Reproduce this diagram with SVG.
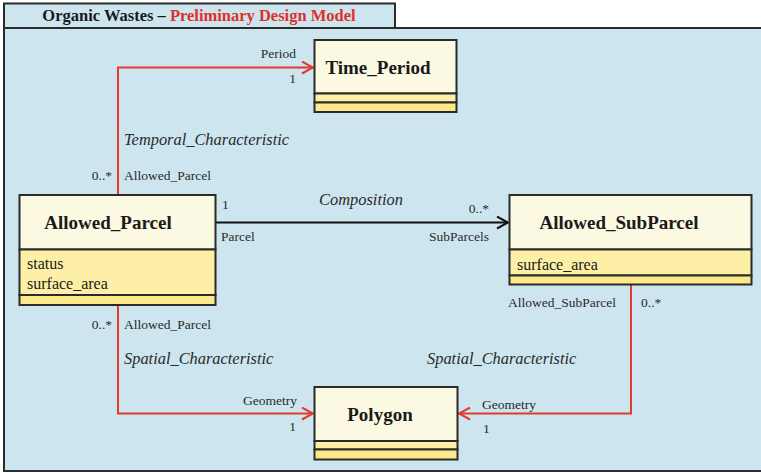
<svg xmlns="http://www.w3.org/2000/svg" width="761" height="473" viewBox="0 0 761 473">
  <style>
    .frame { fill: #cce5ef; stroke: #2b2b2b; stroke-width: 2; }
    .hdr { fill: #fbf9e1; stroke: #2b2b2b; stroke-width: 2; }
    .attr { fill: #fdf0a6; stroke: #2b2b2b; stroke-width: 2; }
    .ops { fill: #fde98a; stroke: #2b2b2b; stroke-width: 2; }
    .name { font-family: "Liberation Serif", serif; font-weight: bold; font-size: 19px; fill: #1a1a1a; text-anchor: middle; }
    .att { font-family: "Liberation Serif", serif; font-size: 16px; fill: #1a1a1a; }
    .lbl { font-family: "Liberation Serif", serif; font-size: 13.5px; fill: #2a2a2a; }
    .role { font-family: "Liberation Serif", serif; font-style: italic; font-size: 16.4px; fill: #2a2a2a; }
    .end { text-anchor: end; }
    .red { fill: none; stroke: #e23b2e; stroke-width: 2; }
    .blk { fill: none; stroke: #111; stroke-width: 2; }
  </style>
  <defs>
    <marker id="openRed" markerWidth="14" markerHeight="14" refX="12" refY="7" orient="auto" markerUnits="userSpaceOnUse">
      <path d="M1,1 L12,7 L1,13" fill="none" stroke="#e23b2e" stroke-width="2"/>
    </marker>
    <marker id="openBlk" markerWidth="14" markerHeight="14" refX="12" refY="7" orient="auto" markerUnits="userSpaceOnUse">
      <path d="M1,1 L12,7 L1,13" fill="none" stroke="#111" stroke-width="2"/>
    </marker>
  </defs>

  <!-- package frame with title tab -->
  <g id="package">
    <rect x="4" y="28" width="762" height="443" class="frame"/>
    <rect x="4" y="3.5" width="391" height="24.5" class="frame"/>
    <text x="199" y="21" font-family="Liberation Serif, serif" font-weight="bold" font-size="16.5" text-anchor="middle" fill="#1a1a1a">Organic Wastes – <tspan fill="#e0302a">Preliminary Design Model</tspan></text>
  </g>

  <!-- connectors -->
  <g id="connectors">
    <polyline points="118,195 118,67.5 313,67.5" class="red" marker-end="url(#openRed)"/>
    <line x1="216" y1="222.5" x2="508" y2="222.5" class="blk" marker-end="url(#openBlk)"/>
    <polyline points="118,305 118,413.5 313,413.5" class="red" marker-end="url(#openRed)"/>
    <polyline points="631,285 631,413.5 459,413.5" class="red" marker-end="url(#openRed)"/>

    <text x="296" y="58" class="lbl end">Period</text>
    <text x="296" y="83" class="lbl end">1</text>
    <text x="124" y="145" class="role">Temporal_Characteristic</text>
    <text x="112" y="180" class="lbl end">0..*</text>
    <text x="124" y="180" class="lbl">Allowed_Parcel</text>

    <text x="222" y="209" class="lbl">1</text>
    <text x="221" y="241" class="lbl">Parcel</text>
    <text x="361" y="205" class="role" text-anchor="middle">Composition</text>
    <text x="489" y="213" class="lbl end">0..*</text>
    <text x="489" y="241" class="lbl end">SubParcels</text>

    <text x="112" y="329" class="lbl end">0..*</text>
    <text x="124" y="329" class="lbl">Allowed_Parcel</text>
    <text x="124" y="364" class="role">Spatial_Characteristic</text>
    <text x="297" y="405" class="lbl end">Geometry</text>
    <text x="296" y="431" class="lbl end">1</text>

    <text x="616" y="307" class="lbl end">Allowed_SubParcel</text>
    <text x="641" y="307" class="lbl">0..*</text>
    <text x="427" y="364" class="role">Spatial_Characteristic</text>
    <text x="482" y="409" class="lbl">Geometry</text>
    <text x="483" y="433" class="lbl">1</text>
  </g>

  <!-- classes -->
  <g id="Time_Period">
    <rect x="314.5" y="40" width="142" height="53.5" class="hdr"/>
    <rect x="314.5" y="93.5" width="142" height="9" class="attr"/>
    <rect x="314.5" y="102.5" width="142" height="9.5" class="ops"/>
    <text x="378" y="74" class="name">Time_Period</text>
  </g>

  <g id="Allowed_Parcel">
    <rect x="19.5" y="195" width="196" height="54.5" class="hdr"/>
    <rect x="19.5" y="249.5" width="196" height="45.5" class="attr"/>
    <rect x="19.5" y="295" width="196" height="10" class="ops"/>
    <text x="108" y="229" class="name">Allowed_Parcel</text>
    <text x="27" y="269" class="att">status</text>
    <text x="27" y="289" class="att">surface_area</text>
  </g>

  <g id="Allowed_SubParcel">
    <rect x="509.5" y="195" width="242" height="54.5" class="hdr"/>
    <rect x="509.5" y="249.5" width="242" height="26" class="attr"/>
    <rect x="509.5" y="275.5" width="242" height="9" class="ops"/>
    <text x="619" y="229" class="name">Allowed_SubParcel</text>
    <text x="517" y="270" class="att">surface_area</text>
  </g>

  <g id="Polygon">
    <rect x="314.5" y="387" width="143" height="54" class="hdr"/>
    <rect x="314.5" y="441" width="143" height="8.5" class="attr"/>
    <rect x="314.5" y="449.5" width="143" height="10" class="ops"/>
    <text x="380" y="421" class="name">Polygon</text>
  </g>
</svg>
